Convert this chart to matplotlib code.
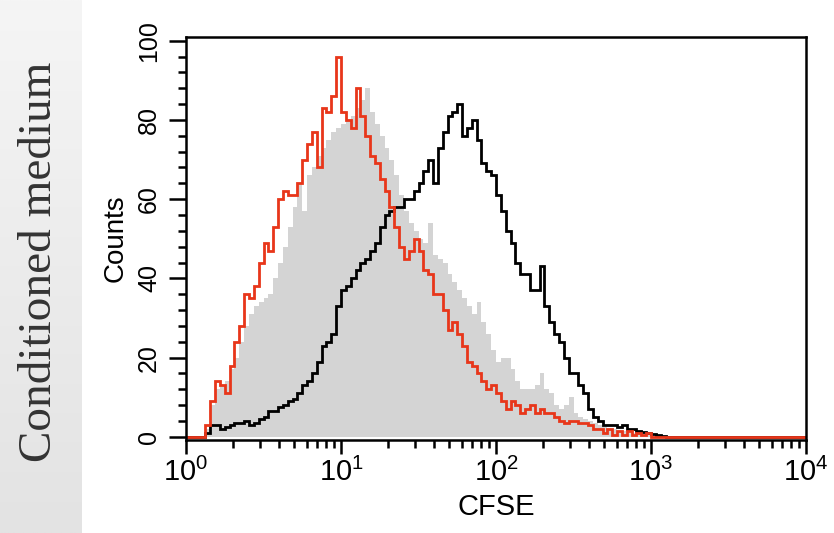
import matplotlib
matplotlib.use("Agg")
import matplotlib.pyplot as plt
import numpy as np
from matplotlib.colors import LinearSegmentedColormap
from matplotlib.ticker import MultipleLocator

# Histogram counts, one value per channel (32 channels per decade, starting at 10^0)
BINS_PER_DECADE = 32

red_counts = [
    0, 0, 0, 0, 3, 9, 14, 13, 11, 18,
    24, 28, 36, 35, 38, 44, 49, 47, 53, 60,
    62, 61, 61, 64, 70, 74, 77, 68, 83, 82,
    86, 96, 82, 80, 78, 88, 81, 76, 71, 69,
    65, 62, 58, 53, 48, 45, 47, 50, 47, 42,
    41, 36, 36, 32, 27, 29, 26, 23, 19, 18,
    16, 14, 12, 13, 11, 9, 7, 9, 8, 6,
    7, 8, 6, 7, 6, 6, 5, 4, 3.5, 4,
    4, 3.5, 3.5, 3, 2, 2, 1, 2, 0.5, 1.5,
    0.5, 1.5, 0.5, 1, 0.5, 1, 0, 0, 0, 0,
]

gray_counts = [
    0, 0, 0, 0, 2, 8, 12, 13, 14, 17,
    20, 24, 28, 31, 33, 34, 35, 36, 40, 44,
    48, 53, 58, 64, 57, 66, 68, 71, 73, 75,
    77, 78, 79, 80, 81, 83, 85, 88, 82, 79,
    76, 73, 70, 66, 61, 57, 54, 52, 50, 49,
    54, 46, 45, 44, 41, 39, 37, 35, 33, 31,
    34, 29, 26, 22, 19, 20, 20, 17, 14, 12,
    12, 12, 13, 16, 12, 11, 8, 7, 8, 10,
    6, 5, 4.5, 4, 3.5, 3, 2.5, 2, 2, 1.5,
    1.5, 1, 1, 1, 0.5, 0.5, 0, 0, 0, 0,
]

black_counts = [
    0, 0, 0, 0, 1, 3, 3, 2, 2.5, 3,
    3.5, 3.5, 4, 3, 3.5, 4.5, 5, 6.5, 6.5, 7.5,
    8, 9, 9.5, 11, 13, 14, 16, 19, 23, 24,
    26, 33, 37, 38, 40, 42, 44, 45, 47, 49,
    53, 56, 57, 58, 58, 60, 60, 62, 64, 67,
    70, 64, 73, 77, 81, 82, 84, 76, 78, 80,
    75, 69, 67, 66, 61, 57, 52, 49, 44, 41,
    41, 37, 37, 43, 33, 29, 26, 24, 20, 16,
    16, 13, 11, 7, 5, 4, 3, 3, 3, 2.5,
    3, 2, 2, 1.5, 1.2, 1, 0.8, 0.5, 0.3, 0,
]

x_label = "CFSE"
y_label = "Counts"
side_label = "Conditioned medium"

W, H = 834, 533


def channel_edges(n_bins):
    # log spaced channel edges, last bin stretched to 10^4 so the red baseline runs to the end
    edges = 10 ** (np.arange(n_bins + 1) / BINS_PER_DECADE)
    return np.append(edges, 1e4)


def main():
    plt.rcParams["font.family"] = ["Liberation Sans", "DejaVu Sans"]
    plt.rcParams["mathtext.fontset"] = "custom"
    plt.rcParams["mathtext.rm"] = "Liberation Sans"
    plt.rcParams["mathtext.it"] = "Liberation Sans:italic"
    plt.rcParams["mathtext.bf"] = "Liberation Sans:bold"

    fig = plt.figure(figsize=(W / 100, H / 100), dpi=100)

    # grey side panel with the condition name
    panel = fig.add_axes([0, 0, 82 / W, 1])
    shade = LinearSegmentedColormap.from_list("shade", ["#f5f5f5", "#e3e3e3"])
    panel.imshow(np.linspace(0, 1, 200).reshape(-1, 1), aspect="auto", cmap=shade)
    panel.axis("off")
    fig.text(40 / W, 1 - 262 / H, side_label, rotation=90, ha="center", va="center",
             family="Liberation Serif", fontsize=34, color="#333333")

    ax = fig.add_axes([186 / W, 1 - 440 / H, (806 - 186) / W, (440 - 36.7) / H])

    edges = channel_edges(len(red_counts))
    ax.stairs(np.append(gray_counts, 0), edges, fill=True, color="#d4d4d4", lw=0)
    ax.stairs(np.append(black_counts, 0), edges, color="black", lw=2, baseline=None)
    ax.stairs(np.append(red_counts, 0), edges, color="#e8361a", lw=2, baseline=None)

    ax.set_xscale("log")
    ax.set_xlim(1, 1e4)
    ax.set_ylim(-0.8, 101)

    ax.yaxis.set_major_locator(MultipleLocator(20))
    ax.yaxis.set_minor_locator(MultipleLocator(4))

    for side in ["left", "right", "top", "bottom"]:
        ax.spines[side].set_linewidth(1.8)

    ax.tick_params(axis="y", which="major", length=12, width=1.8, labelsize=18, pad=6,
                   labelrotation=90)
    ax.tick_params(axis="y", which="minor", length=6, width=1.8)
    ax.tick_params(axis="x", which="major", length=10, width=1.8, labelsize=21, pad=3)
    ax.tick_params(axis="x", which="minor", length=6, width=1.8)
    for lbl in ax.get_yticklabels():
        lbl.set_va("center")

    ax.set_xlabel(x_label, fontsize=21, labelpad=4)
    ax.set_ylabel(y_label, fontsize=20, labelpad=6)

    fig.savefig("out.png", dpi=100)


main()
